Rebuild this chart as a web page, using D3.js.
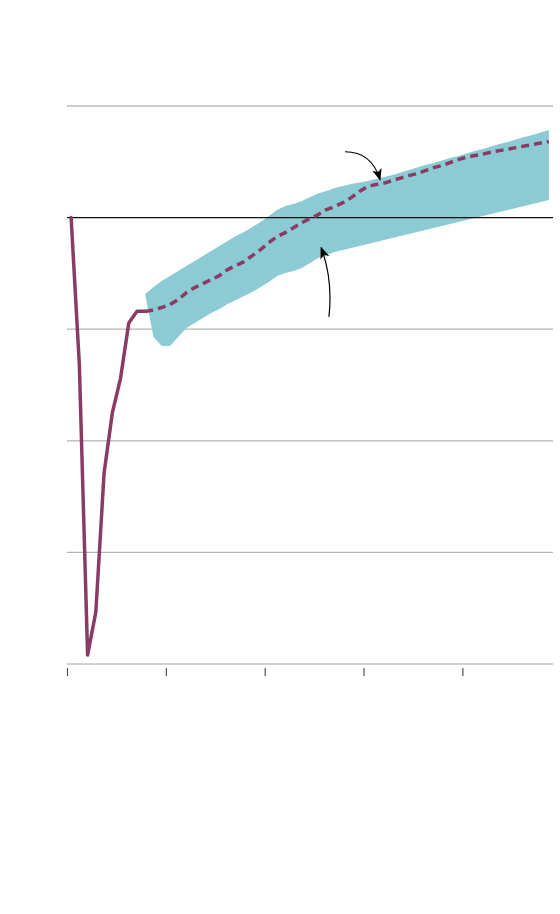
<!DOCTYPE html>
<html>
<head>
<meta charset="utf-8">
<script src="https://cdn.jsdelivr.net/npm/d3@7"></script>
<style>
  html, body { margin: 0; padding: 0; background: #fff; }
  svg { display: block; }
</style>
</head>
<body>
<svg id="chart" width="560" height="914"></svg>
<script>
// ---- data ----
// month index (0 = first month), values index (100 = baseline)
const yTicks = [60, 70, 80, 90, 100, 110];
const xTicks = [0, 12, 24, 36, 48];
const baseline = 100;

const actual = [100, 86.8, 60.8, 64.66, 77.1, 82.5, 85.6, 90.56, 91.6, 91.6];

const forecastStart = 9;
const forecast = [91.58, 91.72, 91.94, 92.2, 92.65, 93.28, 93.73, 94.09, 94.44, 94.8,
  95.34, 95.7, 96.06, 96.6, 97.13, 97.76, 98.3, 98.66, 99.1, 99.55,
  99.91, 100.27, 100.72, 100.99, 101.34, 101.79, 102.33, 102.78, 102.96, 103.09,
  103.32, 103.54, 103.76, 103.94, 104.21, 104.48, 104.66, 104.93, 105.2, 105.42,
  105.56, 105.69, 105.87, 106.0, 106.14, 106.27, 106.41, 106.54, 106.68, 106.81];

const bandUpper = [93.15, 93.78, 94.32, 94.77, 95.22, 95.66, 96.11, 96.56, 97.01, 97.46,
  97.9, 98.35, 98.71, 99.16, 99.61, 100.14, 100.68, 101.04, 101.22, 101.49,
  101.85, 102.16, 102.38, 102.65, 102.83, 103.01, 103.15, 103.28, 103.46, 103.64,
  103.82, 104.04, 104.27, 104.49, 104.71, 104.89, 105.12, 105.34, 105.52, 105.74,
  105.97, 106.15, 106.37, 106.59, 106.77, 107.0, 107.22, 107.4, 107.63, 107.85];

const bandLower = [93.06, 89.3, 88.49, 88.49, 89.3, 90.11, 90.56, 91.0, 91.45, 91.81,
  92.26, 92.62, 92.97, 93.33, 93.78, 94.23, 94.77, 95.04, 95.22, 95.48,
  95.93, 96.38, 96.65, 96.92, 97.1, 97.28, 97.46, 97.63, 97.81, 97.99,
  98.17, 98.35, 98.53, 98.71, 98.89, 99.07, 99.25, 99.43, 99.61, 99.78,
  99.96, 100.14, 100.32, 100.5, 100.68, 100.86, 101.04, 101.22, 101.4, 101.58];

// annotation arrows: [start, control, end] in (month, value)
const arrows = [
  [[33.75, 105.9], [37.0, 105.9], [38.0, 103.4]],
  [[31.8, 91.1], [32.3, 94.5], [30.85, 97.3]]
];

// ---- layout ----
const svg = d3.select("#chart");
const x = d3.scaleLinear().domain([0, 59]).range([67, 553]);
const y = d3.scaleLinear().domain([60, 110]).range([664, 106]);

const colLine = "#8a3b64";
const colBand = "#8ccad4";

// gridlines
svg.append("g")
  .selectAll("line")
  .data(yTicks.filter(d => d !== baseline && d !== 60))
  .join("line")
  .attr("x1", x(0)).attr("x2", x(59))
  .attr("y1", d => y(d)).attr("y2", d => y(d))
  .attr("stroke", d => d === 110 ? "#999" : "#b5b5b5")
  .attr("stroke-width", d => d === 110 ? 1 : 1.3);

// x axis
const xAxis = d3.axisBottom(x).tickValues(xTicks).tickSize(8).tickFormat("");
const gx = svg.append("g").attr("transform", `translate(0,${y(60) + 4})`).call(xAxis);
gx.select(".domain").remove();
gx.selectAll(".tick line").attr("stroke", "#555").attr("stroke-width", 1.2);

svg.append("line")
  .attr("x1", x(0)).attr("x2", x(59))
  .attr("y1", y(60)).attr("y2", y(60))
  .attr("stroke", "#c2c2c2").attr("stroke-width", 1.6);

// band
const bandData = bandUpper.map((u, i) => ({ i: forecastStart + i, u, l: bandLower[i] }));
svg.append("path")
  .datum(bandData)
  .attr("fill", colBand)
  .attr("d", d3.area()
    .x(d => x(d.i + 0.5))
    .y0(d => y(d.l))
    .y1(d => y(d.u)));

// baseline
svg.append("line")
  .attr("x1", x(0)).attr("x2", x(59))
  .attr("y1", y(baseline)).attr("y2", y(baseline))
  .attr("stroke", "#111").attr("stroke-width", 1.2);

// actual line
svg.append("path")
  .datum(actual.map((v, i) => ({ i, v })))
  .attr("fill", "none")
  .attr("stroke", colLine)
  .attr("stroke-width", 3.5)
  .attr("stroke-linejoin", "round")
  .attr("stroke-linecap", "round")
  .attr("d", d3.line().x(d => x(d.i + 0.5)).y(d => y(d.v)));

// forecast dashed line
svg.append("path")
  .datum(forecast.map((v, i) => ({ i: forecastStart + i, v })))
  .attr("fill", "none")
  .attr("stroke", colLine)
  .attr("stroke-width", 3.5)
  .attr("stroke-dasharray", "8,5")
  .attr("stroke-linejoin", "round")
  .attr("d", d3.line().x(d => x(d.i + 0.5)).y(d => y(d.v)));

// arrows
svg.append("defs").append("marker")
  .attr("id", "ah")
  .attr("viewBox", "0 0 10 10")
  .attr("refX", 9).attr("refY", 5)
  .attr("markerWidth", 12).attr("markerHeight", 12)
  .attr("markerUnits", "userSpaceOnUse")
  .attr("orient", "auto")
  .append("path")
  .attr("d", "M0,1 L10,5 L0,9 L2.5,5 Z")
  .attr("fill", "#000");

svg.append("g")
  .selectAll("path")
  .data(arrows)
  .join("path")
  .attr("fill", "none")
  .attr("stroke", "#000")
  .attr("stroke-width", 1.2)
  .attr("marker-end", "url(#ah)")
  .attr("d", a => {
    const p = d3.path();
    p.moveTo(x(a[0][0]), y(a[0][1]));
    p.quadraticCurveTo(x(a[1][0]), y(a[1][1]), x(a[2][0]), y(a[2][1]));
    return p.toString();
  });
</script>
</body>
</html>
